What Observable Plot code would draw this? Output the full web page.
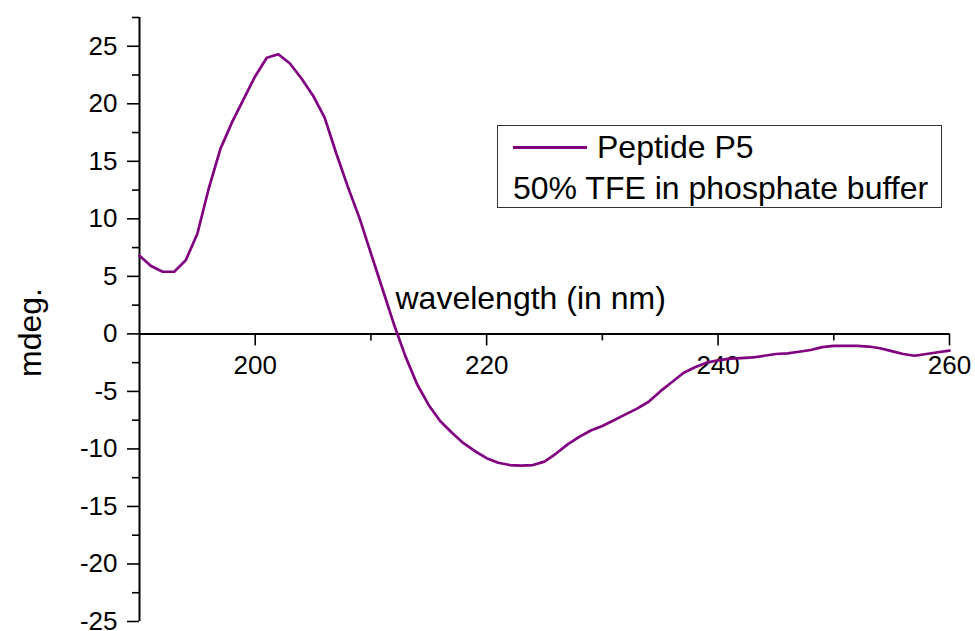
<!DOCTYPE html>
<html>
<head>
<meta charset="utf-8">
<script src="https://cdn.jsdelivr.net/npm/d3@7"></script>
<script src="https://cdn.jsdelivr.net/npm/@observablehq/plot@0.6"></script>
<style>
  body { margin: 0; background: #fff; }
  #wrap { position: relative; width: 975px; height: 631px; font-family: "Liberation Sans", Arial, sans-serif; }
  #legend { position: absolute; left: 497px; top: 125px; width: 445px; height: 83px; box-sizing: border-box;
            border: 1px solid #333; font-size: 32px; color: #000; line-height: 1; }
  #legend .row1 { position: absolute; left: 15px; top: 5px; display: flex; align-items: center; white-space: nowrap; }
  #legend .swatch { width: 74px; height: 3px; background: #800080; margin-right: 10px; }
  #legend .row2 { position: absolute; left: 15px; top: 46px; white-space: nowrap; }
</style>
</head>
<body>
<div id="wrap"></div>
<script>
// ---- data ----
const wavelength = [190,191,192,193,194,195,196,197,198,199,
                    200,201,202,203,204,205,206,207,208,209,
                    210,211,212,213,214,215,216,217,218,219,
                    220,221,222,223,224,225,226,227,228,229,
                    230,231,232,233,234,235,236,237,238,239,
                    240,241,242,243,244,245,246,247,248,249,
                    250,251,252,253,254,255,256,257,258,259,260];
const mdeg = [6.8,5.9,5.4,5.4,6.4,8.7,12.7,16.1,18.4,20.4,
              22.4,24.0,24.3,23.5,22.2,20.7,18.8,15.7,12.8,10.1,
              7.0,3.9,0.8,-2.0,-4.4,-6.2,-7.6,-8.6,-9.5,-10.2,
              -10.8,-11.2,-11.4,-11.45,-11.4,-11.1,-10.4,-9.6,-8.95,-8.4,
              -8.0,-7.5,-7.0,-6.5,-5.9,-5.0,-4.2,-3.4,-2.9,-2.5,
              -2.3,-2.15,-2.1,-2.05,-1.9,-1.75,-1.7,-1.55,-1.4,-1.15,
              -1.05,-1.05,-1.05,-1.1,-1.25,-1.5,-1.75,-1.9,-1.75,-1.6,-1.45];
const xMajorTicks = [200, 220, 240, 260];
const xMinorTicks = [210, 230, 250];
const yMajorTicks = [-25,-20,-15,-10,-5,0,5,10,15,20,25];
const yMinorTicks = [-22.5,-17.5,-12.5,-7.5,-2.5,2.5,7.5,12.5,17.5,22.5,27.5];
const xDomain = [190, 260];
const yDomain = [-25, 27.5];
const seriesName = "Peptide P5";
const seriesNote = "50% TFE in phosphate buffer";
const xTitle = "wavelength (in nm)";
const yTitle = "mdeg.";

const data = wavelength.map((w, i) => ({w, v: mdeg[i]}));
const purple = "#800080";
const font = "Liberation Sans, Arial, sans-serif";

const chart = Plot.plot({
  width: 975,
  height: 631,
  marginLeft: 139,
  marginRight: 26,
  marginTop: 17,
  marginBottom: 10,
  style: {fontFamily: font, fontSize: "26px", color: "#000", background: "#fff", overflow: "visible"},
  x: {domain: xDomain, axis: null},
  y: {domain: yDomain, axis: null},
  marks: [
    // y axis line
    Plot.ruleX([xDomain[0]], {stroke: "#000", strokeWidth: 2}),
    // y axis major ticks + labels
    Plot.axisY(yMajorTicks, {tickSize: 12, tickPadding: 10, fontSize: 26, strokeWidth: 1.6, label: null, tickFormat: d => String(d)}),
    // y minor ticks
    Plot.axisY(yMinorTicks, {tickSize: 7, strokeWidth: 1.6, label: null, tickFormat: () => ""}),
    // x axis at y = 0
    Plot.ruleY([0], {stroke: "#000", strokeWidth: 2}),
    Plot.ruleX(xMajorTicks, {x: d => d, y1: 0, y2: 0, insetBottom: -12, stroke: "#000", strokeWidth: 1.6}),
    Plot.ruleX(xMinorTicks, {x: d => d, y1: 0, y2: 0, insetBottom: -7, stroke: "#000", strokeWidth: 1.6}),
    Plot.text(xMajorTicks, {x: d => d, y: 0, text: d => String(d), lineAnchor: "top", dy: 22, fontSize: 26, fill: "#000"}),
    // curve
    Plot.line(data, {x: "w", y: "v", stroke: purple, strokeWidth: 2.7, strokeLinejoin: "round"}),
    // axis titles
    Plot.text([xTitle], {frameAnchor: "top-left", text: d => d, textAnchor: "start", lineAnchor: "bottom", dx: 256, dy: 291, fontSize: 32, fill: "#000"}),
    Plot.text([yTitle], {frameAnchor: "left", text: d => d, textAnchor: "middle", rotate: -90, dx: -109, dy: 13, fontSize: 32, fill: "#000"})
  ]
});

const wrap = document.getElementById("wrap");
wrap.appendChild(chart);
const legend = document.createElement("div");
legend.id = "legend";
legend.innerHTML = `<div class="row1"><span class="swatch"></span><span>${seriesName}</span></div><div class="row2">${seriesNote}</div>`;
wrap.appendChild(legend);
</script>
</body>
</html>
